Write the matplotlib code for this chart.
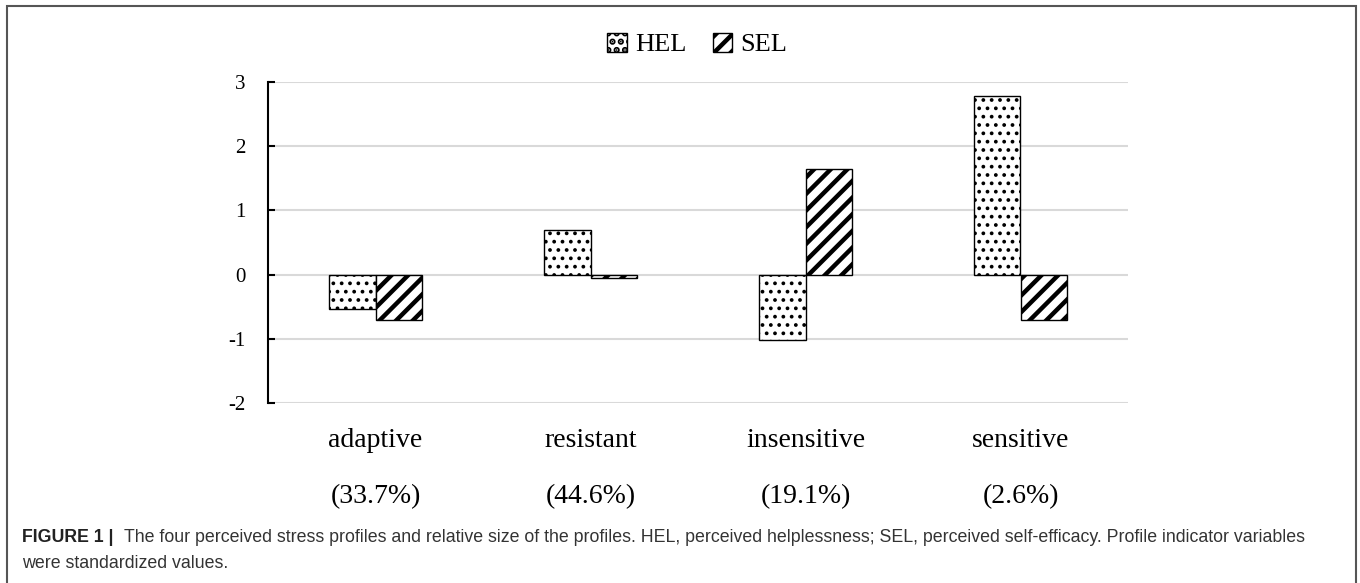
import numpy as np
import matplotlib.pyplot as plt
from matplotlib.patches import Rectangle

categories = ["adaptive", "resistant", "insensitive", "sensitive"]
shares = ["(33.7%)", "(44.6%)", "(19.1%)", "(2.6%)"]
hel = [-0.53, 0.70, -1.02, 2.78]
sel = [-0.71, -0.06, 1.64, -0.71]

serif = "Liberation Serif"
sans = "Liberation Sans"
plt.rcParams['axes.unicode_minus'] = False

fig = plt.figure(figsize=(13.6, 5.83), dpi=100)
ax = fig.add_axes([268 / 1360, 1 - 403 / 583, 860 / 1360, 321 / 583])

x = np.arange(len(categories))
w = 0.214

plt.rcParams['hatch.linewidth'] = 1.5
b1 = ax.bar(x - w / 2, hel, w, color="white", edgecolor="black", linewidth=1.0,
            hatch="..", label="HEL", zorder=3)
plt.rcParams['hatch.linewidth'] = 3.2
b2 = ax.bar(x + w / 2, sel, w, color="white", edgecolor="black", linewidth=1.0,
            hatch="//", label="SEL", zorder=3)
for p in b1:
    if hasattr(p, "set_hatch_linewidth"):
        p.set_hatch_linewidth(1.5)
for p in b2:
    if hasattr(p, "set_hatch_linewidth"):
        p.set_hatch_linewidth(3.2)

ax.set_xlim(-0.5, len(categories) - 0.5)
ax.set_ylim(-2, 3)
ax.set_yticks(range(-2, 4))
ax.yaxis.grid(True, color="#d9d9d9", linewidth=1.5, zorder=0)
ax.set_axisbelow(True)

for s in ["top", "right", "bottom"]:
    ax.spines[s].set_visible(False)
ax.spines["left"].set_color("black")
ax.spines["left"].set_linewidth(1.5)

ax.tick_params(axis="y", direction="in", length=5, width=1.5, pad=16,
               labelsize=15)
ax.tick_params(axis="x", length=0, pad=18, labelsize=20)
ax.set_xticks(x)
ax.set_xticklabels(categories, fontfamily=serif)
for lab in ax.get_yticklabels():
    lab.set_fontfamily(serif)

for i, s in enumerate(shares):
    ax.text(x[i], -2.0 - 94 / 64.2, s, ha="center", va="center",
            fontsize=20, fontfamily=serif)

leg = ax.legend(loc="center", bbox_to_anchor=(0.499, 1.117), ncol=2, frameon=False,
                prop={"family": serif, "size": 19}, handlelength=0.75,
                handleheight=0.75, handletextpad=0.3, columnspacing=1.0)

# outer frame around figure and caption
fig.add_artist(Rectangle((7 / 1360, -0.05), 1349 / 1360, 1 - 6 / 583 + 0.05,
                         transform=fig.transFigure, fill=False,
                         edgecolor="#555555", linewidth=1.5))

fig.text(22 / 1360, 1 - 537 / 583, "FIGURE 1 |", fontsize=12.8, fontweight="bold",
         fontfamily=sans, color="#222222", va="center")
fig.text(124 / 1360, 1 - 537 / 583,
         "The four perceived stress profiles and relative size of the profiles. HEL, perceived helplessness; SEL, perceived self-efficacy. Profile indicator variables",
         fontsize=12.8, fontfamily=sans, color="#333333", va="center")
fig.text(22 / 1360, 1 - 564 / 583, "were standardized values.", fontsize=12.8,
         fontfamily=sans, color="#333333", va="center")

fig.savefig("out.png", dpi=100)
